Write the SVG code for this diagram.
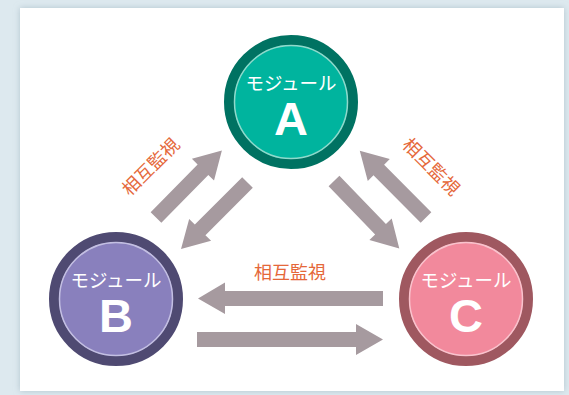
<svg xmlns="http://www.w3.org/2000/svg" width="569" height="395" viewBox="0 0 569 395">
<defs>
<filter id="sh" x="-5%" y="-5%" width="110%" height="110%">
<feDropShadow dx="0" dy="0" stdDeviation="3" flood-color="#9fb4bf" flood-opacity="0.7"/>
</filter>
<path id="arr" d="M0,-7.5 L67,-7.5 L67,-15.5 L94,0 L67,15.5 L67,7.5 L0,7.5 Z"/>
</defs>
<style>
.arrow{fill:#a69a9f}
.lbl{font-family:"Noto Sans CJK JP","Noto Sans CJK SC",sans-serif;font-size:18px;fill:#e5683a;text-anchor:middle}
.mod{font-family:"Noto Sans CJK JP","Noto Sans CJK SC",sans-serif;font-size:18.5px;fill:#ffffff;text-anchor:middle}
.let{font-family:"Liberation Sans",Arial,sans-serif;font-weight:bold;font-size:47px;fill:#ffffff;text-anchor:middle}
</style>
<rect x="0" y="0" width="569" height="395" fill="#dde9ef"/>
<rect x="20" y="8" width="544" height="383" fill="#ffffff" filter="url(#sh)"/>
<g id="connectors">
<use href="#arr" class="arrow" transform="translate(156,217.5) rotate(-45.5)"/>
<use href="#arr" class="arrow" transform="translate(247.5,182.5) rotate(135)"/>
<use href="#arr" class="arrow" transform="translate(334,181) rotate(46)"/>
<use href="#arr" class="arrow" transform="translate(426,217.5) rotate(-134.8)"/>
<path class="arrow" d="M383,291 L225,291 L225,282.5 L198,298.5 L225,314 L225,306 L383,306 Z"/>
<path class="arrow" d="M197,332 L356,332 L356,324 L383,339.5 L356,355 L356,347 L197,347 Z"/>
<text class="lbl" transform="translate(151,167) rotate(-45)" x="0" y="6">相互監視</text>
<text class="lbl" transform="translate(431,167) rotate(45)" x="0" y="6">相互監視</text>
<text class="lbl" x="290" y="279">相互監視</text>
</g>
<g id="nodeA">
<circle cx="291" cy="102" r="62" fill="#00b49e" stroke="#007262" stroke-width="10"/>
<circle cx="291" cy="102" r="56.5" fill="none" stroke="#8fd9cb" stroke-width="1.5"/>
<text class="mod" x="291" y="90">モジュール</text>
<text class="let" x="291" y="135">A</text>
</g>
<g id="nodeB">
<circle cx="116" cy="299" r="62" fill="#8980bd" stroke="#4f4a72" stroke-width="10"/>
<circle cx="116" cy="299" r="56.5" fill="none" stroke="#c3bfe2" stroke-width="1.5"/>
<text class="mod" x="116" y="287">モジュール</text>
<text class="let" x="116" y="332">B</text>
</g>
<g id="nodeC">
<circle cx="466" cy="299" r="62" fill="#f2899c" stroke="#9f5860" stroke-width="10"/>
<circle cx="466" cy="299" r="56.5" fill="none" stroke="#f9c3cd" stroke-width="1.5"/>
<text class="mod" x="466" y="287">モジュール</text>
<text class="let" x="466" y="332">C</text>
</g>
</svg>
